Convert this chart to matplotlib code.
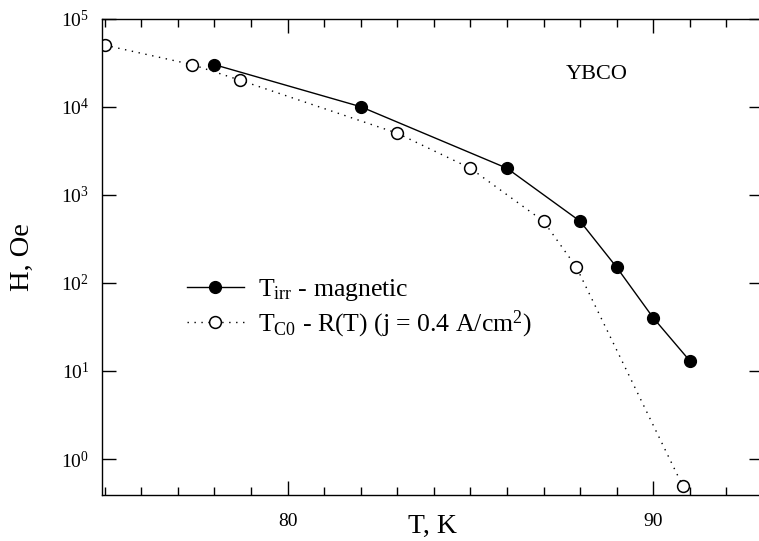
import numpy as np
import matplotlib
matplotlib.use("Agg")
import matplotlib.pyplot as plt
from matplotlib.ticker import MultipleLocator, LogLocator, NullLocator

plt.rcParams['font.family'] = ['Liberation Serif', 'DejaVu Serif']
plt.rcParams['mathtext.fontset'] = 'custom'
plt.rcParams['mathtext.rm'] = 'Liberation Serif'
plt.rcParams['mathtext.it'] = 'Liberation Serif:italic'

# T_irr - magnetic (filled circles)
t_irr = [78.0, 82.0, 86.0, 88.0, 89.0, 90.0, 91.0]
h_irr = [3e4, 1e4, 2e3, 5e2, 150, 40, 13]

# T_C0 - R(T) (open circles)
t_c0 = [75.0, 77.4, 78.7, 83.0, 85.0, 87.0, 87.9, 90.8]
h_c0 = [5e4, 3e4, 2e4, 5e3, 2e3, 5e2, 150, 0.5]

label_irr = r"T$_{\mathrm{irr}}$ - magnetic"
label_c0 = r"T$_{\mathrm{C0}}$ - R(T) (j = 0.4 A/cm$^{2}$)"

fig = plt.figure(figsize=(7.59, 5.41), dpi=100)
ax = fig.add_axes([0.134, 0.0856, 0.8713, 0.880])

ax.plot(t_irr, h_irr, '-', color='black', lw=1.0, marker='o', ms=8.5,
        mfc='black', mec='black', label=label_irr)
ax.plot(t_c0, h_c0, color='black', lw=1.0, ls=(0, (1, 4)), marker='o', ms=8.5,
        mfc='white', mec='black', mew=1.1, label=label_c0)

ax.set_yscale('log')
ax.set_xlim(74.92, 93.0)
ax.set_ylim(10**-0.405, 1e5)

ax.xaxis.set_major_locator(MultipleLocator(10))
ax.xaxis.set_minor_locator(MultipleLocator(1))
ax.yaxis.set_major_locator(LogLocator(base=10, numticks=10))
ax.yaxis.set_minor_locator(NullLocator())

ax.tick_params(which='both', direction='in', top=True, right=True, labelsize=14)
ax.tick_params(which='major', length=10, width=1.0)
ax.tick_params(which='minor', length=6, width=1.0)
ax.tick_params(axis='x', pad=13)
ax.tick_params(axis='y', pad=9)
for sp in ax.spines.values():
    sp.set_linewidth(1.0)
# the right border falls just outside the picture in the original
ax.spines['right'].set_visible(False)

ax.set_xlabel("T, K", fontsize=20)
ax.set_ylabel("H, Oe", fontsize=20.5)
ax.xaxis.set_label_coords(0.5, -0.041)
ax.yaxis.set_label_coords(-0.101, 0.5)

ax.text(88.46, 2.35e4, "YBCO", fontsize=16, ha='center', va='center')

ax.legend(loc='upper left', bbox_to_anchor=(0.129, 0.458), frameon=False,
          fontsize=18.5, handlelength=2.2, handletextpad=0.55, labelspacing=0.22,
          borderaxespad=0, borderpad=0)

fig.savefig("out.png", dpi=100)
